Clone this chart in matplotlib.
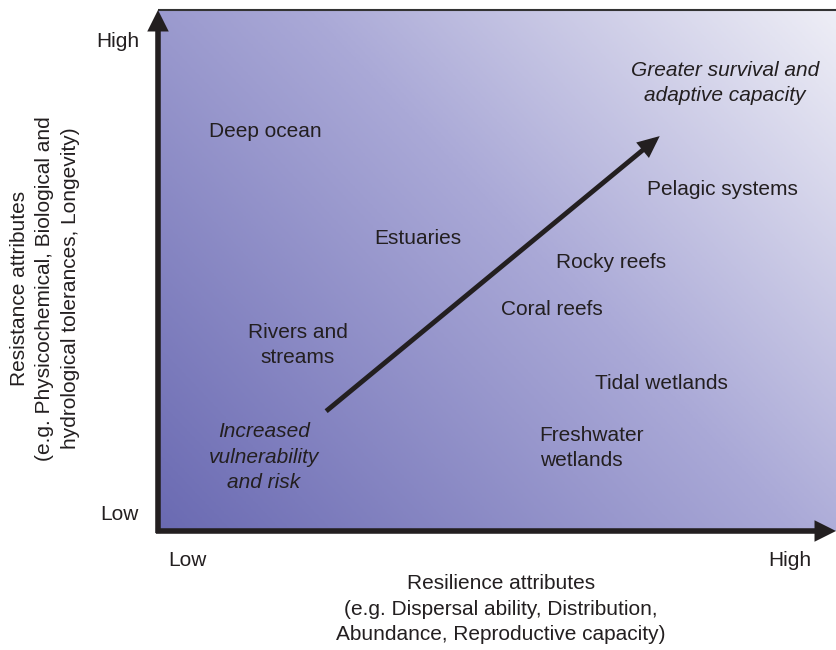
import numpy as np
import matplotlib

matplotlib.use("Agg")
import matplotlib.pyplot as plt
from matplotlib.colors import LinearSegmentedColormap

# Ecosystems placed by resilience (x) and resistance (y), 0 = low, 1 = high
ecosystems = ["Deep ocean", "Estuaries", "Rivers and\nstreams", "Rocky reefs",
              "Coral reefs", "Pelagic systems", "Tidal wetlands",
              "Freshwater\nwetlands"]
resilience = [0.159, 0.383, 0.206, 0.668, 0.581, 0.832, 0.742, 0.563]
resistance = [0.766, 0.562, 0.357, 0.516, 0.426, 0.655, 0.284, 0.159]
align = ["center", "center", "center", "center", "center", "center", "center", "left"]

# trend arrow (low -> high)
trend_start = (0.248, 0.230)
trend_end = (0.740, 0.758)

TEXT = "#231f20"
FONT = "Liberation Sans"
FS = 15
LS = 1.44

fig = plt.figure(figsize=(8.36, 6.5), dpi=100)
ax = fig.add_axes([158 / 836, 119 / 650, 678 / 836, 521 / 650])
ax.set_xlim(0, 1)
ax.set_ylim(0, 1)
ax.axis("off")

# diagonal background gradient
cmap = LinearSegmentedColormap.from_list(
    "bg", [(0, "#6a6ab2"), (0.55, "#aaa9d7"), (1, "#eeeef6")])
gx, gy = np.meshgrid(np.linspace(0, 1, 400), np.linspace(0, 1, 400))
grad = 0.58 * gx + 0.42 * gy
ax.imshow(grad, extent=[0, 1, 0, 1], origin="lower", cmap=cmap,
          aspect="auto", vmin=0, vmax=1, zorder=0)
ax.plot([0, 1], [1, 1], color="#333333", lw=1.5, zorder=1, clip_on=False,
        solid_capstyle="butt")

# axes arrows
arrow_kw = dict(arrowstyle="-|>,head_length=0.9,head_width=0.45",
                color=TEXT, lw=4, shrinkA=0, shrinkB=0,
                capstyle="butt", joinstyle="miter")
ax.annotate("", xy=(0, 1.0), xytext=(0, -0.004), xycoords="axes fraction",
            arrowprops=arrow_kw, annotation_clip=False)
ax.annotate("", xy=(1.0, 0), xytext=(-0.003, 0), xycoords="axes fraction",
            arrowprops=arrow_kw, annotation_clip=False)

# trend arrow
ax.annotate("", xy=trend_end, xytext=trend_start,
            arrowprops=dict(arrowstyle="-|>,head_length=1.0,head_width=0.45",
                            color=TEXT, lw=3.5, shrinkA=0, shrinkB=0,
                            capstyle="butt", joinstyle="miter"))

for name, x, y, ha in zip(ecosystems, resilience, resistance, align):
    ax.text(x, y, name, ha=ha, va="center", fontsize=FS, color=TEXT,
            family=FONT, linespacing=LS,
            multialignment="left" if ha == "left" else "center")

ax.text(0.156, 0.142, "Increased\nvulnerability\nand risk", ha="center",
        va="center", fontsize=FS, color=TEXT, family=FONT, style="italic",
        linespacing=LS)
ax.text(0.836, 0.860, "Greater survival and\nadaptive capacity", ha="center",
        va="center", fontsize=FS, color=TEXT, family=FONT, style="italic",
        linespacing=LS)

# axis end labels
ax.text(-0.028, 0.939, "High", ha="right", va="center", fontsize=FS,
        color=TEXT, family=FONT, clip_on=False)
ax.text(-0.028, 0.031, "Low", ha="right", va="center", fontsize=FS,
        color=TEXT, family=FONT, clip_on=False)
ax.text(0.044, -0.056, "Low", ha="center", va="center", fontsize=FS,
        color=TEXT, family=FONT, clip_on=False)
ax.text(0.932, -0.056, "High", ha="center", va="center", fontsize=FS,
        color=TEXT, family=FONT, clip_on=False)

ax.text(0.506, -0.150,
        "Resilience attributes\n(e.g. Dispersal ability, Distribution,\n"
        "Abundance, Reproductive capacity)",
        ha="center", va="center", fontsize=FS, color=TEXT, family=FONT,
        linespacing=LS, clip_on=False)
ax.text(-0.167, 0.466,
        "Resistance attributes\n(e.g. Physicochemical, Biological and\n"
        "hydrological tolerances, Longevity)",
        ha="center", va="center", rotation=90, fontsize=FS, color=TEXT,
        family=FONT, linespacing=LS, clip_on=False)

fig.savefig("out.png", dpi=100, facecolor="white")
